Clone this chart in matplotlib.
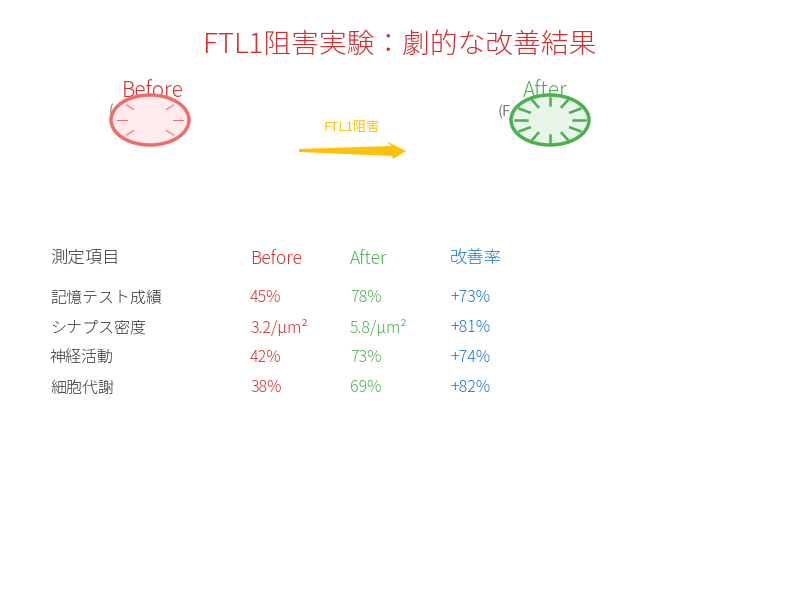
import numpy as np
import matplotlib.pyplot as plt
from matplotlib.patches import Ellipse, Polygon

plt.rcParams['font.family'] = 'Noto Sans CJK JP'

# データ
title = 'FTL1阻害実験：劇的な改善結果'
headers = ['測定項目', 'Before', 'After', '改善率']
items = ['記憶テスト成績', 'シナプス密度', '神経活動', '細胞代謝']
before_vals = ['45%', '3.2/μm²', '42%', '38%']
after_vals = ['78%', '5.8/μm²', '73%', '69%']
improve_vals = ['+73%', '+81%', '+74%', '+82%']

RED = '#d32f2f'
GREEN = '#4caf50'
BLUE = '#1976d2'
GOLD = '#ffc107'

fig = plt.figure(figsize=(8, 6), dpi=100)
ax = fig.add_axes([0, 0, 1, 1])
ax.set_xlim(0, 800)
ax.set_ylim(600, 0)
ax.axis('off')

ax.text(400, 45, title, color=RED, fontsize=20, ha='center', va='center', fontweight='light')

# Before の脳
ax.text(109, 111, '(', color='#777777', fontsize=10, ha='left', va='center', zorder=1)
ax.text(153, 91, 'Before', color=RED, fontsize=15, ha='center', va='center', zorder=1, fontweight='light')
ax.add_patch(Ellipse((150, 120), 78, 50, facecolor='#ffebee', edgecolor='#ef6c6c', lw=2.5, zorder=2))
for ang in [0, 45, 135, 180, 225, 315]:
    a = np.deg2rad(ang)
    r1, r2 = 0.6, 0.85
    ax.plot([150 + 39 * r1 * np.cos(a), 150 + 39 * r2 * np.cos(a)],
            [120 - 25 * r1 * np.sin(a), 120 - 25 * r2 * np.sin(a)],
            color='#ef6c6c', lw=0.8, zorder=3)

# After の脳
ax.text(498, 112, '(F', color='#777777', fontsize=10.5, ha='left', va='center', zorder=1)
ax.text(545, 91, 'After', color=GREEN, fontsize=15, ha='center', va='center', zorder=1, fontweight='light')
ax.add_patch(Ellipse((550, 120), 78, 50, facecolor='#e8f5e9', edgecolor=GREEN, lw=2.5, zorder=2))
for ang in range(0, 360, 30):
    a = np.deg2rad(ang)
    r1, r2 = 0.6, 0.9
    ax.plot([550 + 39 * r1 * np.cos(a), 550 + 39 * r2 * np.cos(a)],
            [120 - 25 * r1 * np.sin(a), 120 - 25 * r2 * np.sin(a)],
            color=GREEN, lw=1.8, zorder=3)

# 矢印
ax.text(352, 128, 'FTL1阻害', color=GOLD, fontsize=9.5, ha='center', va='center')
ax.add_patch(Polygon([(299, 149), (392, 146), (386, 141), (406, 151),
                      (393, 159), (392, 156), (299, 152)], closed=True,
                     facecolor=GOLD, edgecolor='none'))

# 表
col_x = [50, 250, 350, 450]
col_colors = ['#333333', RED, GREEN, BLUE]
for x, h, c in zip(col_x, headers, col_colors):
    ax.text(x, 259, h, color=c, fontsize=12.5, ha='left', va='center', fontweight='light')
for i, row in enumerate(zip(items, before_vals, after_vals, improve_vals)):
    y = 298 + 30 * i
    for x, v, c in zip(col_x, row, col_colors):
        ax.text(x, y, v, color=c, fontsize=11.5, ha='left', va='center', fontweight='light')

fig.savefig('out.png', dpi=100)
